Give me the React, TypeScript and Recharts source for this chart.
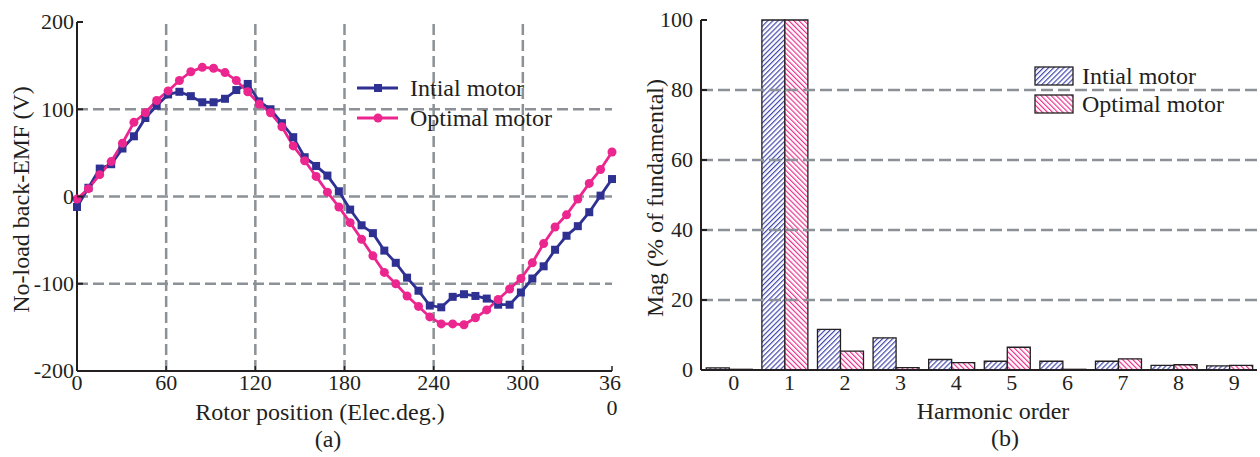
import React from "react";
import { LineChart, Line, BarChart, Bar, XAxis, YAxis, ReferenceLine, Legend, Label } from "recharts";

// (a) no-load back-EMF over one electrical period
const angle = [
  0, 7.7, 15.3, 23.0, 30.6, 38.3, 46.0, 53.6, 61.3, 68.9, 76.6, 84.3, 91.9, 99.6, 107.2, 114.9,
  122.6, 130.2, 137.9, 145.5, 153.2, 160.9, 168.5, 176.2, 183.8, 191.5, 199.1, 206.8, 214.5, 222.1,
  229.8, 237.4, 245.1, 252.8, 260.4, 268.1, 275.7, 283.4, 291.1, 298.7, 306.4, 314.0, 321.7, 329.4,
  337.0, 344.7, 352.3, 360,
];
const initialEmf = [
  -12, 10, 32, 37, 55, 69, 90, 104, 117, 120, 115, 108, 108, 112, 122, 129, 109, 100, 84, 68, 45, 35,
  24, 6, -15, -33, -42, -62, -76, -93, -108, -125, -127, -115, -112, -114, -117, -124, -124, -110,
  -94, -80, -61, -45, -34, -18, 1, 20,
];
const optimalEmf = [
  -3, 9, 25, 40, 61, 85, 96, 110, 121, 133, 143, 148, 147, 142, 133, 120, 106, 96, 80, 58, 41, 23, 5,
  -12, -30, -49, -68, -87, -100, -114, -126, -138, -146, -146, -147, -139, -130, -118, -106, -94,
  -76, -54, -35, -21, -3, 15, 31, 51,
];
const emfXTicks = [0, 60, 120, 180, 240, 300, 360];
const emfYTicks = [-200, -100, 0, 100, 200];
const emfGridX = [60, 120, 180, 240, 300];
const emfGridY = [-100, 0, 100];

// (b) harmonic spectrum
const harmonic = ["0", "1", "2", "3", "4", "5", "6", "7", "8", "9"];
const initialMag = [0.6, 100, 11.6, 9.2, 3.0, 2.5, 2.5, 2.5, 1.3, 1.2];
const optimalMag = [0.2, 100, 5.4, 0.7, 2.1, 6.5, 0.2, 3.2, 1.5, 1.3];
const magYTicks = [0, 20, 40, 60, 80, 100];
const magGridY = [20, 40, 60, 80];

const emfData = angle.map((a, i) => ({ angle: a, initial: initialEmf[i], optimal: optimalEmf[i] }));
const magData = harmonic.map((h, i) => ({ h, initial: initialMag[i], optimal: optimalMag[i] }));

const FONT = '"Liberation Serif", "DejaVu Serif", serif';
const INK = "#231f20";
const BLUE = "#2e3192";
const PINK = "#ec268f";
const GRID = "#8b9196";
const HATCH_BLUE = "#4348a8";
const HATCH_PINK = "#e8358f";

const txt = { fontFamily: FONT, fill: INK };

const EmfXTick = ({ x, y, payload }: any) => (
  <g>
    <line x1={x} y1={y} x2={x} y2={y - 5} stroke={INK} strokeWidth={1.5} />
    {payload.value === 360 ? (
      <text x={x} y={y + 19} textAnchor="middle" fontSize={22} {...txt}>
        <tspan x={x - 2}>36</tspan>
        <tspan x={x} dy={25}>0</tspan>
      </text>
    ) : (
      <text x={x} y={y + 19} textAnchor="middle" fontSize={22} {...txt}>
        {payload.value}
      </text>
    )}
  </g>
);

const InwardYTick = ({ x, y, payload, gap }: any) => (
  <g>
    <line x1={x} y1={y} x2={x + 6} y2={y} stroke={INK} strokeWidth={2} />
    <text x={x - gap} y={y} dy="0.33em" textAnchor="end" fontSize={22} {...txt}>
      {payload.value}
    </text>
  </g>
);

const MagXTick = ({ x, y, payload }: any) => (
  <text x={x + 5} y={y + 20} textAnchor="middle" fontSize={22} {...txt}>
    {payload.value}
  </text>
);

const XTitle = ({ viewBox, title, caption, cx, capX }: any) => (
  <g>
    <text x={cx} y={viewBox.y + 49} textAnchor="middle" fontSize={24} {...txt}>
      {title}
    </text>
    <text x={capX} y={viewBox.y + 76} textAnchor="middle" fontSize={24} {...txt}>
      {caption}
    </text>
  </g>
);

const YTitle = ({ viewBox, title, cx }: any) => {
  const cy = viewBox.y + viewBox.height / 2 + 3;
  return (
    <text x={cx} y={cy} dy="0.33em" textAnchor="middle" fontSize={24} transform={`rotate(-90 ${cx} ${cy})`} {...txt}>
      {title}
    </text>
  );
};

const EmfLegend = ({ payload }: any) => (
  <svg width={260} height={64}>
    {(payload || []).map((p: any, i: number) => {
      const y = 18 + i * 30;
      return (
        <g key={p.value}>
          <line x1={7} y1={y} x2={48} y2={y} stroke={p.color} strokeWidth={2.8} />
          {i === 0 ? (
            <rect x={24} y={y - 4} width={8} height={8} fill={p.color} />
          ) : (
            <circle cx={28} cy={y} r={4.5} fill={p.color} />
          )}
          <text x={60} y={y + 8} fontSize={24} {...txt}>
            {p.value}
          </text>
        </g>
      );
    })}
  </svg>
);

const Hatch = ({ id, color, angle: rot }: any) => (
  <pattern id={id} patternUnits="userSpaceOnUse" width={3.6} height={3.6} patternTransform={`rotate(${rot})`}>
    <rect width={3.6} height={3.6} fill="#fff" />
    <line x1={0.6} y1={0} x2={0.6} y2={3.6} stroke={color} strokeWidth={1.2} />
  </pattern>
);

const MagLegend = ({ payload }: any) => (
  <svg width={230} height={64}>
    <defs>
      <Hatch id="lgBlue" color={HATCH_BLUE} angle={45} />
      <Hatch id="lgPink" color={HATCH_PINK} angle={-45} />
    </defs>
    {(payload || []).map((p: any, i: number) => {
      const y = 7 + i * 28;
      return (
        <g key={p.value}>
          <rect x={5} y={y} width={38} height={18} fill={i === 0 ? "url(#lgBlue)" : "url(#lgPink)"} stroke={INK} strokeWidth={1.3} />
          <text x={52} y={y + 17} fontSize={24} {...txt}>
            {p.value}
          </text>
        </g>
      );
    })}
  </svg>
);

const SquareDot = ({ cx, cy }: any) => <rect x={cx - 4} y={cy - 4} width={8} height={8} fill={BLUE} />;

export default function App() {
  return (
    <div style={{ position: "absolute", left: 0, top: 0, width: 1260, height: 457, background: "#fff" }}>
      <div style={{ position: "absolute", left: 0, top: 0 }}>
        <LineChart width={640} height={457} data={emfData} margin={{ top: 22, right: 28, left: 17, bottom: 56 }}>
          <XAxis
            dataKey="angle"
            type="number"
            domain={[0, 360]}
            ticks={emfXTicks}
            height={30}
            tickSize={0}
            tickMargin={0}
            tickLine={false}
            axisLine={{ stroke: INK, strokeWidth: 2 }}
            tick={<EmfXTick />}
            interval={0}
          >
            <Label content={(p: any) => <XTitle {...p} title="Rotor position (Elec.deg.)" caption="(a)" cx={320} capX={328} />} />
          </XAxis>
          <XAxis xAxisId="top" orientation="top" type="number" domain={[0, 360]} height={0} tick={false} tickLine={false} axisLine={{ stroke: INK, strokeWidth: 2 }} />
          <YAxis
            type="number"
            domain={[-200, 200]}
            ticks={emfYTicks}
            width={60}
            tickSize={0}
            tickMargin={0}
            tickLine={false}
            axisLine={{ stroke: INK, strokeWidth: 2 }}
            tick={<InwardYTick gap={3} />}
            interval={0}
          >
            <Label content={(p: any) => <YTitle {...p} title="No-load back-EMF (V)" cx={21} />} />
          </YAxis>
          <YAxis yAxisId="right" orientation="right" type="number" domain={[-200, 200]} width={0} tick={false} tickLine={false} axisLine={{ stroke: INK, strokeWidth: 1.5 }} />
          {emfGridY.map((v) => (
            <ReferenceLine key={`gy${v}`} y={v} stroke={GRID} strokeWidth={2.5} strokeDasharray="11 5" />
          ))}
          {emfGridX.map((v) => (
            <ReferenceLine key={`gx${v}`} x={v} stroke={GRID} strokeWidth={2.5} strokeDasharray="11 5" />
          ))}
          <Legend
            layout="vertical"
            align="center"
            verticalAlign="middle"
            wrapperStyle={{ left: 350, top: 70, width: 260, height: 64 }}
            content={(p: any) => <EmfLegend payload={p.payload} />}
          />
          <Line dataKey="initial" name="Intial motor" stroke={BLUE} strokeWidth={2.8} dot={<SquareDot />} isAnimationActive={false} />
          <Line dataKey="optimal" name="Optimal motor" stroke={PINK} strokeWidth={2.8} dot={{ r: 4.5, fill: PINK, stroke: PINK, strokeWidth: 0 }} isAnimationActive={false} />
        </LineChart>
      </div>

      <div style={{ position: "absolute", left: 640, top: 0 }}>
        <BarChart width={620} height={457} data={magData} margin={{ top: 20, right: 3, left: 11, bottom: 57 }} barCategoryGap="9.5%" barGap={0}>
          <defs>
            <Hatch id="hatchBlue" color={HATCH_BLUE} angle={45} />
            <Hatch id="hatchPink" color={HATCH_PINK} angle={-45} />
          </defs>
          <XAxis dataKey="h" height={30} tickSize={0} tickMargin={0} tickLine={false} axisLine={{ stroke: INK, strokeWidth: 2 }} tick={<MagXTick />} interval={0}>
            <Label content={(p: any) => <XTitle {...p} title="Harmonic order" caption="(b)" cx={353} capX={365} />} />
          </XAxis>
          <XAxis xAxisId="top" orientation="top" dataKey="h" height={0} tick={false} tickLine={false} axisLine={{ stroke: INK, strokeWidth: 2 }} />
          <YAxis
            type="number"
            domain={[0, 100]}
            ticks={magYTicks}
            width={50}
            tickSize={0}
            tickMargin={0}
            tickLine={false}
            axisLine={{ stroke: INK, strokeWidth: 2 }}
            tick={<InwardYTick gap={8} />}
            interval={0}
          >
            <Label content={(p: any) => <YTitle {...p} title="Mag (% of fundamental)" cx={15} />} />
          </YAxis>
          <YAxis yAxisId="right" orientation="right" type="number" domain={[0, 100]} width={0} tick={false} tickLine={false} axisLine={{ stroke: INK, strokeWidth: 1.5 }} />
          {magGridY.map((v) => (
            <ReferenceLine key={`my${v}`} y={v} stroke={GRID} strokeWidth={2.5} strokeDasharray="12 5" />
          ))}
          <Legend
            layout="vertical"
            align="center"
            verticalAlign="middle"
            wrapperStyle={{ left: 390, top: 60, width: 230, height: 64 }}
            content={(p: any) => <MagLegend payload={p.payload} />}
          />
          <Bar dataKey="initial" name="Intial motor" fill="url(#hatchBlue)" stroke={INK} strokeWidth={1.3} isAnimationActive={false} />
          <Bar dataKey="optimal" name="Optimal motor" fill="url(#hatchPink)" stroke={INK} strokeWidth={1.3} isAnimationActive={false} />
        </BarChart>
      </div>
    </div>
  );
}
